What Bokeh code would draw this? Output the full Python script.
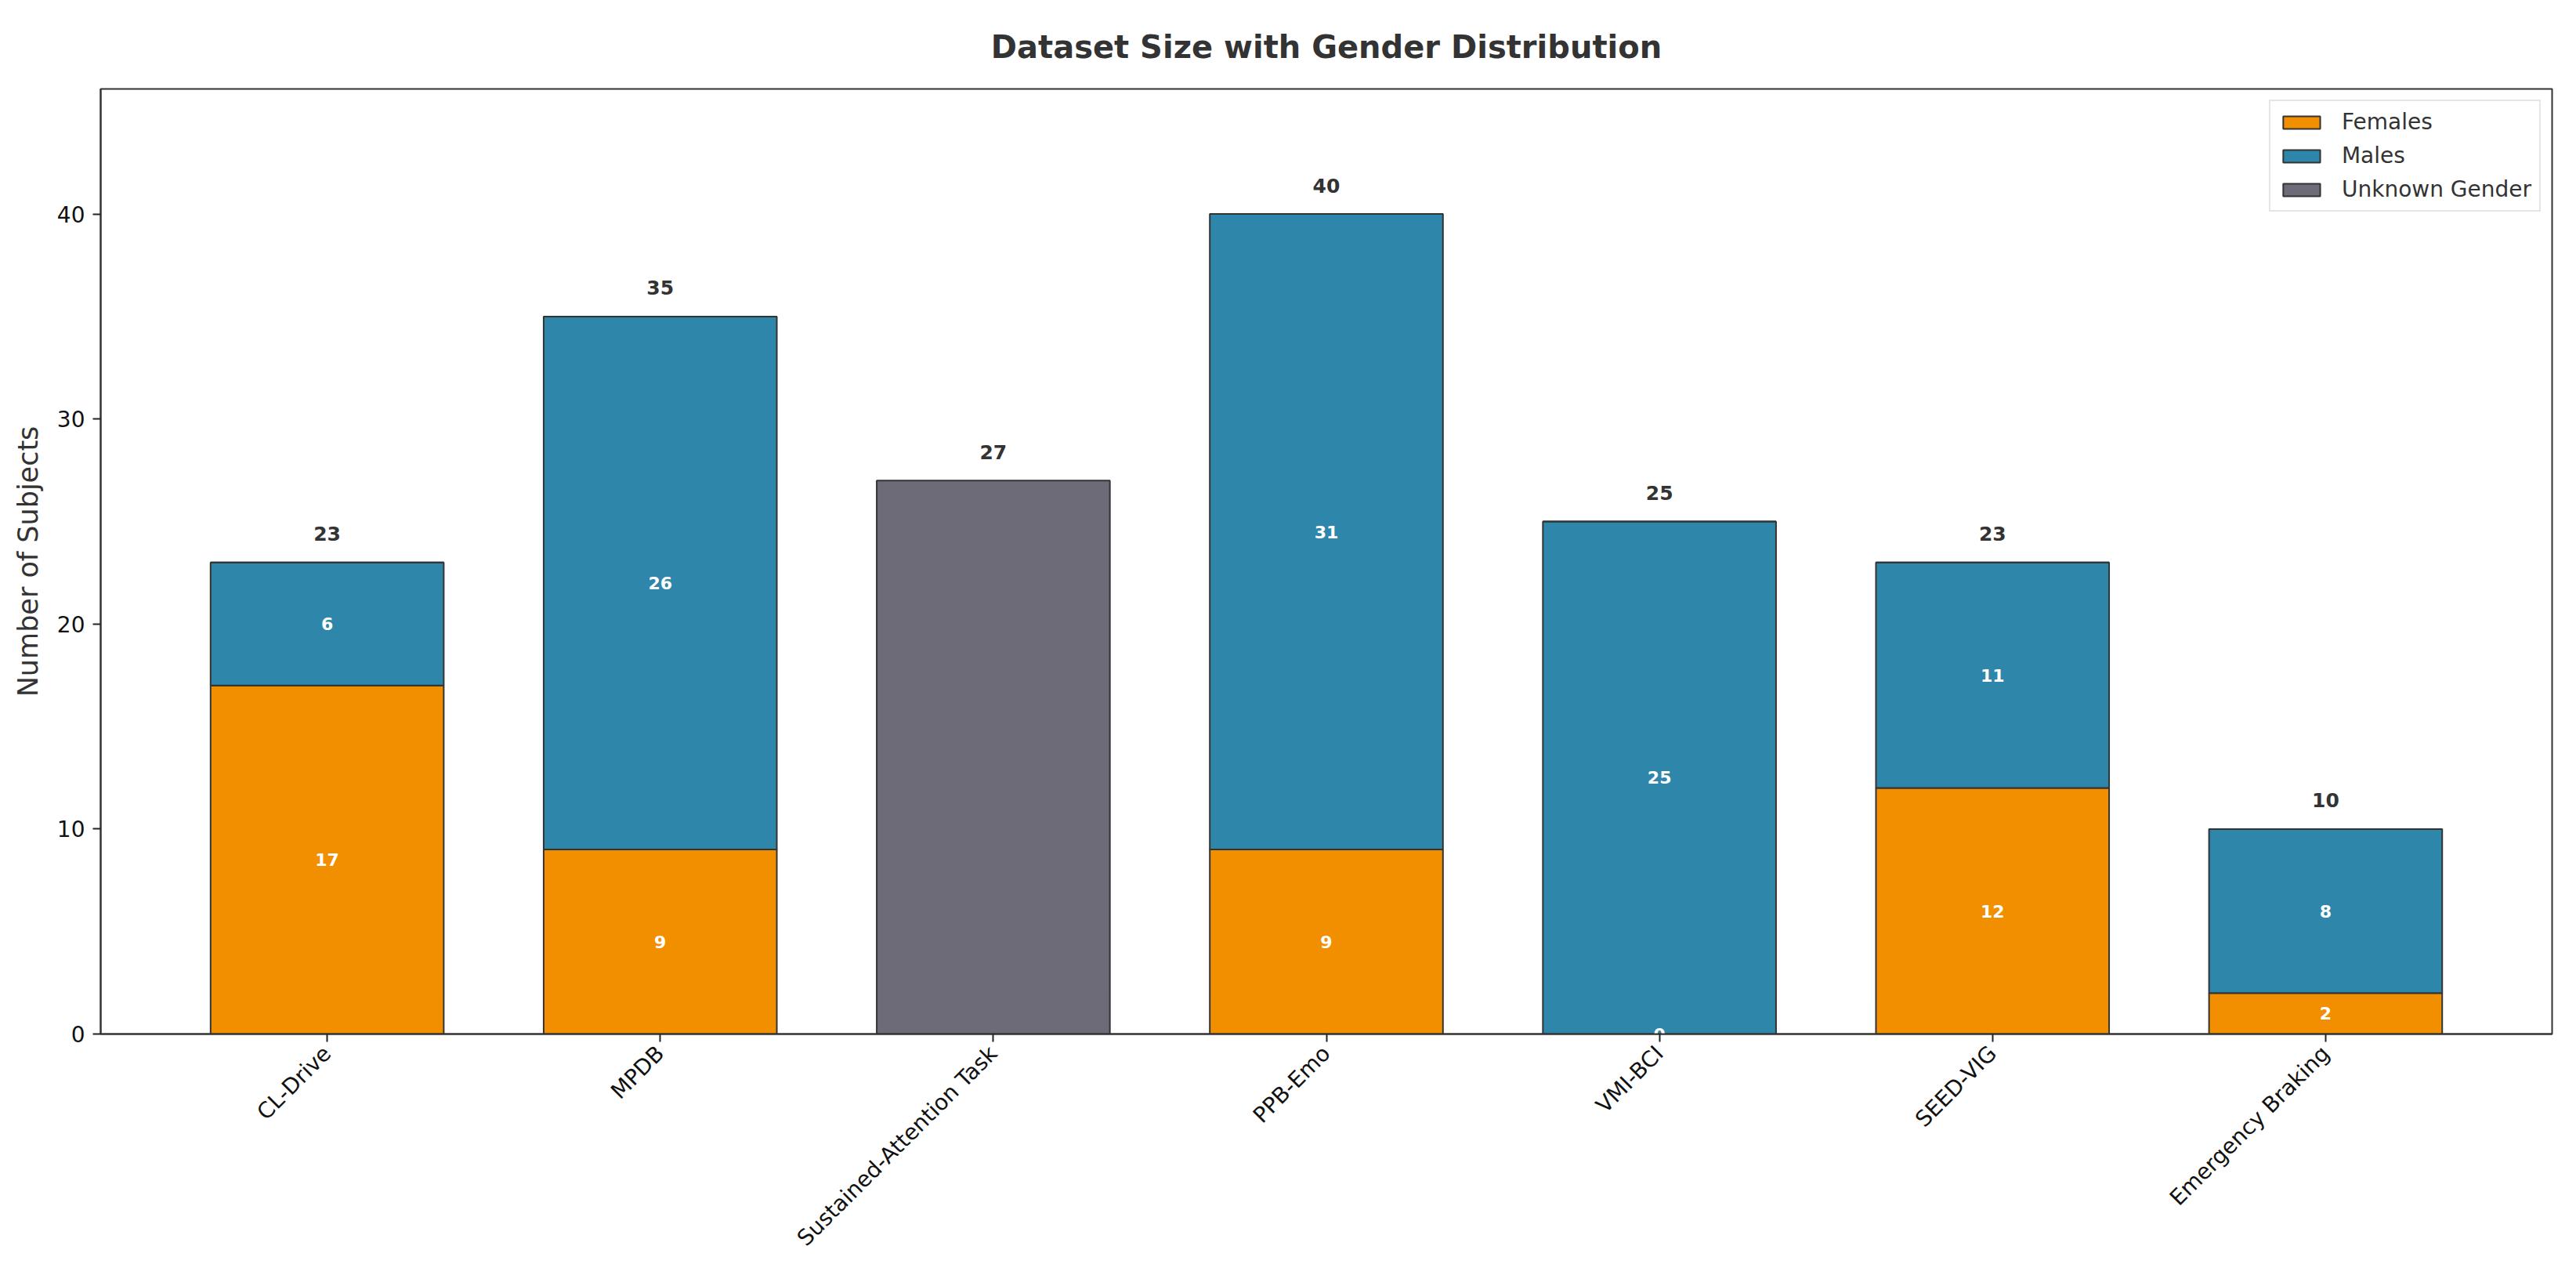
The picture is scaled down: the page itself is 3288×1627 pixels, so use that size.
import numpy as np
from bokeh.plotting import figure
from bokeh.models import Range1d, FixedTicker, ColumnDataSource, Legend, LegendItem
from bokeh.core.properties import value
from bokeh.embed import file_html
from bokeh.resources import INLINE

categories = ["CL-Drive", "MPDB", "Sustained-Attention Task", "PPB-Emo",
              "VMI-BCI", "SEED-VIG", "Emergency Braking"]
females = [17, 9, 0, 9, 0, 12, 2]
males = [6, 26, 0, 31, 25, 11, 8]
unknown = [0, 0, 27, 0, 0, 0, 0]
# which inner labels are shown (the original shows "0" for VMI-BCI females, none for the unknown-only bar)
female_label_shown = [True, True, False, True, True, True, True]
male_label_shown = [True, True, False, True, True, True, True]
y_ticks = [0, 10, 20, 30, 40]

COL_F = "#F18F01"
COL_M = "#2E86AB"
COL_U = "#6C6B77"
EDGE = "#333333"
FONT = "DejaVu Sans"

x = list(range(len(categories)))
f = np.array(females, dtype=float)
m = np.array(males, dtype=float)
u = np.array(unknown, dtype=float)
total = f + m + u

p = figure(width=3272, height=1611, output_backend="svg", toolbar_location=None,
           x_range=Range1d(-0.68, 6.68), y_range=Range1d(0, 46.1),
           min_border_left=128, min_border_right=15, min_border_bottom=290,
           min_border_top=113, background_fill_color="white",
           border_fill_color="white")

p.title.text = "Dataset Size with Gender Distribution"
p.title.align = "center"
p.title.text_font = FONT
p.title.text_font_size = "40px"
p.title.text_font_style = "bold"
p.title.text_color = "#333333"
p.title.standoff = 62

src = ColumnDataSource(dict(x=x, f=f, m=m, u=u,
                            fm=f + m, tot=total))

rf = p.vbar(x="x", width=0.7, bottom=0, top="f", source=src,
            fill_color=COL_F, line_color=EDGE, line_width=2)
rm = p.vbar(x="x", width=0.7, bottom="f", top="fm", source=src,
            fill_color=COL_M, line_color=EDGE, line_width=2)
ru = p.vbar(x="x", width=0.7, bottom="fm", top="tot", source=src,
            fill_color=COL_U, line_color=EDGE, line_width=2)

# inner labels
fl_x = [xi for xi, s in zip(x, female_label_shown) if s]
fl_y = [fv / 2 for fv, s in zip(females, female_label_shown) if s]
fl_t = [str(fv) for fv, s in zip(females, female_label_shown) if s]
ml_x = [xi for xi, s in zip(x, male_label_shown) if s]
ml_y = [fv + mv / 2 for fv, mv, s in zip(females, males, male_label_shown) if s]
ml_t = [str(mv) for mv, s in zip(males, male_label_shown) if s]
p.text(x=fl_x + ml_x, y=fl_y + ml_y, text=fl_t + ml_t,
       text_font=value(FONT), text_font_size="22px", text_font_style="bold",
       text_color="white", text_align="center", text_baseline="middle")

# totals
p.text(x=x, y=list(total + 1.05), text=[str(int(t)) for t in total],
       text_font=value(FONT), text_font_size="25px", text_font_style="bold",
       text_color="#333333", text_align="center", text_baseline="bottom")

# axes
p.xgrid.visible = False
p.ygrid.visible = False
p.outline_line_color = EDGE
p.outline_line_width = 2

p.xaxis.ticker = FixedTicker(ticks=x)
p.xaxis.major_label_overrides = {i: c for i, c in zip(x, categories)}
p.xaxis.major_label_orientation = np.pi / 4
p.yaxis.ticker = FixedTicker(ticks=y_ticks)
for ax in (p.xaxis[0], p.yaxis[0]):
    ax.axis_line_color = EDGE
    ax.axis_line_width = 2
    ax.major_tick_line_color = "#222222"
    ax.major_tick_line_width = 2
    ax.major_tick_out = 10
    ax.major_tick_in = 0
    ax.minor_tick_line_color = None
    ax.major_label_text_font = FONT
    ax.major_label_text_font_size = "28px"
    ax.major_label_text_color = "#111111"
    ax.major_label_standoff = 10

p.yaxis.axis_label = "Number of Subjects"
p.yaxis.axis_label_text_font = FONT
p.yaxis.axis_label_text_font_size = "35px"
p.yaxis.axis_label_text_font_style = "normal"
p.yaxis.axis_label_text_color = "#333333"
p.yaxis.axis_label_standoff = 14

legend = Legend(items=[LegendItem(label="Females", renderers=[rf]),
                       LegendItem(label="Males", renderers=[rm]),
                       LegendItem(label="Unknown Gender", renderers=[ru])],
                location="top_right")
legend.label_text_font = FONT
legend.label_text_font_size = "28px"
legend.label_text_color = "#333333"
legend.glyph_width = 59
legend.glyph_height = 20
legend.label_height = 30
legend.label_standoff = 22
legend.spacing = 10
legend.padding = 10
legend.margin = 14
legend.border_line_color = "#cccccc"
legend.border_line_width = 2
legend.background_fill_alpha = 0.9
p.add_layout(legend)

open("out.html", "w").write(file_html(p, INLINE))
